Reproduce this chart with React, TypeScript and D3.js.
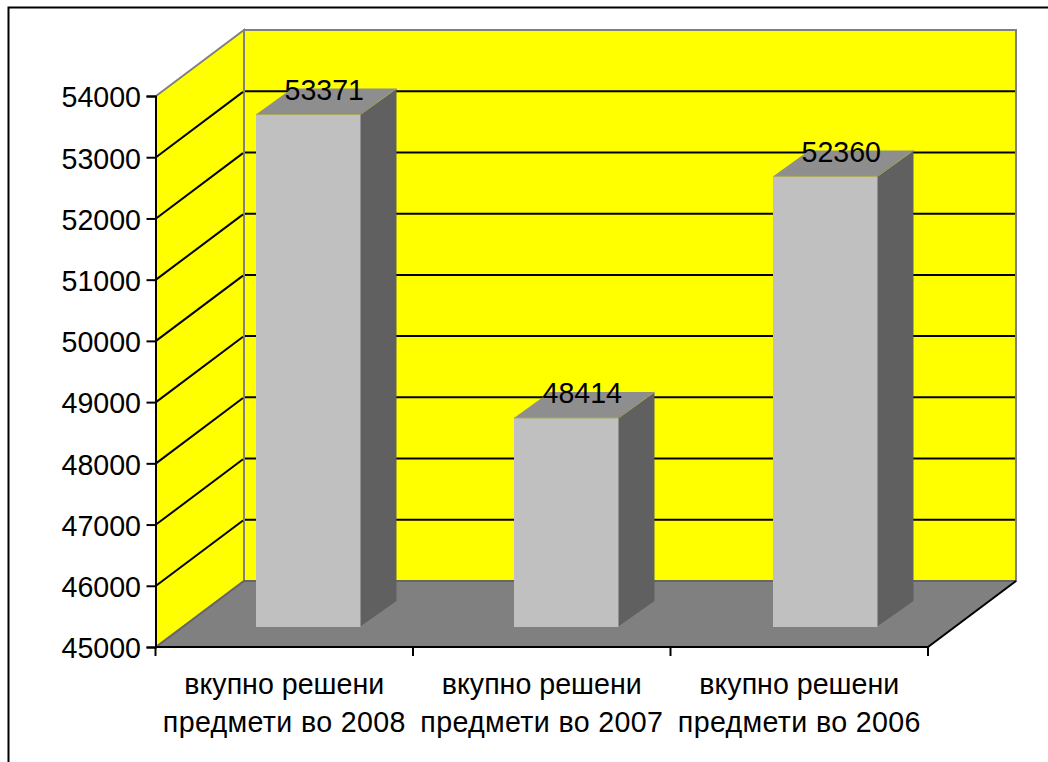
import React, { useRef, useEffect } from "react";
import * as d3 from "d3";

const categories = ["2008", "2007", "2006"];
const values = [53371, 48414, 52360];
const tickValues = [45000, 46000, 47000, 48000, 49000, 50000, 51000, 52000, 53000, 54000];
const labelFirstLine = "вкупно решени";
const labelSecondLine = "предмети во ";

const App = () => {
  const svgRef = useRef<SVGSVGElement>(null);

  useEffect(() => {
    const svg = d3.select(svgRef.current);
    svg.selectAll("*").remove();

    const font = "'Liberation Sans', Arial, sans-serif";
    const fontSize = 28.6;

    const x = d3.scaleBand().domain(categories).range([155.5, 928]);
    const xBar = d3.scalePoint().domain(categories).range([256, 773]);
    const y = d3.scaleLinear().domain([45000, 54000]).range([647, 96]);

    // 3d offsets
    const wallDx = 88;
    const wallDy = -66;
    const barDy = -20;
    const barWidth = 104.5;
    const depthDx = 36;
    const depthDy = -26;

    const pts = (p: number[][]) => p.map((d) => d.join(",")).join(" ");
    const x0 = 156;
    const x1 = x.range()[1];
    const y0 = y(45000);
    const yTop = y(54000);

    // frame
    svg
      .append("path")
      .attr("d", "M8.5,762V7.5H1048")
      .attr("fill", "none")
      .attr("stroke", "#000")
      .attr("stroke-width", 2);

    // walls
    svg
      .append("polygon")
      .attr("points", pts([[x0 + wallDx, yTop + wallDy], [x1 + wallDx, yTop + wallDy], [x1 + wallDx, y0 + wallDy], [x0 + wallDx, y0 + wallDy]]))
      .attr("fill", "#ffff00")
      .attr("stroke", "#808080")
      .attr("stroke-width", 2);
    svg
      .append("polygon")
      .attr("points", pts([[x0, yTop], [x0 + wallDx, yTop + wallDy], [x0 + wallDx, y0 + wallDy], [x0, y0]]))
      .attr("fill", "#ffff00")
      .attr("stroke", "#808080")
      .attr("stroke-width", 2);

    // grid on both walls
    const gridG = svg.append("g").attr("fill", "none").attr("stroke", "#000").attr("stroke-width", 2);
    tickValues.slice(1, -1).forEach((t) => {
      gridG
        .append("path")
        .attr("d", `M${x0},${y(t)}L${x0 + wallDx - 1},${y(t) + wallDy + 0.7}`);
      gridG
        .append("path")
        .attr("d", `M${x0 + wallDx + 1},${y(t) + wallDy}H${x1 + wallDx - 1}`);
    });

    // floor
    svg
      .append("polygon")
      .attr("points", pts([[x0, y0], [x1, y0], [x1 + wallDx, y0 + wallDy], [x0 + wallDx, y0 + wallDy]]))
      .attr("fill", "#808080");
    svg
      .append("path")
      .attr("d", `M${x0},${y0}L${x0 + wallDx},${y0 + wallDy}H${x1 + wallDx}`)
      .attr("fill", "none")
      .attr("stroke", "#666")
      .attr("stroke-width", 2);
    svg
      .append("path")
      .attr("d", `M${x1},${y0}L${x1 + wallDx},${y0 + wallDy}`)
      .attr("stroke", "#000")
      .attr("stroke-width", 2);

    // bars
    const bars = svg
      .append("g")
      .selectAll("g")
      .data(categories.map((c, i) => ({ c, v: values[i] })))
      .join("g");
    const left = (d: { c: string }) => Math.floor(xBar(d.c) as number);
    const base = y0 + barDy;
    const top = (d: { v: number }) => y(d.v) + barDy;

    bars
      .append("polygon")
      .attr("points", (d) =>
        pts([[left(d), top(d)], [left(d) + barWidth, top(d)], [left(d) + barWidth + depthDx, top(d) + depthDy], [left(d) + depthDx, top(d) + depthDy]])
      )
      .attr("fill", "#8e8e8e");
    // side starts a pixel under the front face so no wall shows through the seam
    bars
      .append("polygon")
      .attr("points", (d) =>
        pts([[left(d) + barWidth - 1, top(d)], [left(d) + barWidth + depthDx, top(d) + depthDy], [left(d) + barWidth + depthDx, base + depthDy], [left(d) + barWidth - 1, base]])
      )
      .attr("fill", "#606060");
    bars
      .append("rect")
      .attr("x", left)
      .attr("y", top)
      .attr("width", barWidth)
      .attr("height", (d) => base - top(d))
      .attr("fill", "#c0c0c0");
    bars
      .append("path")
      .attr("d", (d) => `M${left(d)},${top(d)}H${left(d) + barWidth}L${left(d) + barWidth + depthDx},${top(d) + depthDy}`)
      .attr("fill", "none")
      .attr("stroke", "#a8a860")
      .attr("stroke-width", 1);
    bars
      .append("text")
      .attr("x", (d) => left(d) + barWidth / 2 + 16)
      .attr("y", (d) => top(d) - 14.5)
      .attr("text-anchor", "middle")
      .attr("font-family", font)
      .attr("font-size", fontSize)
      .attr("fill", "#000")
      .text((d) => d.v);

    // axes
    const yAxis = svg
      .append("g")
      .attr("transform", `translate(${x0 - 0.5},0)`)
      .call(d3.axisLeft(y).tickValues(tickValues).tickSize(9).tickPadding(5.5).tickFormat(d3.format("d")));
    yAxis.selectAll("line").attr("stroke", "#000").attr("stroke-width", 2);
    yAxis.select(".domain").attr("stroke", "#000").attr("stroke-width", 2);
    yAxis
      .selectAll("text")
      .attr("font-family", font)
      .attr("font-size", fontSize)
      .attr("dy", "0.38em")
      .attr("fill", "#000");

    const xAxisG = svg.append("g").attr("stroke", "#000").attr("stroke-width", 2).attr("fill", "none");
    xAxisG.append("path").attr("d", `M${x0},${y0}H${x1}`);
    [...categories.map((c) => x(c) as number), x1].forEach((tx) => {
      xAxisG.append("path").attr("d", `M${tx},${y0}V${y0 + 9}`);
    });

    const labels = svg
      .append("g")
      .attr("font-family", font)
      .attr("font-size", fontSize)
      .attr("text-anchor", "middle")
      .attr("fill", "#000")
      .selectAll("g")
      .data(categories)
      .join("g");
    labels
      .append("text")
      .attr("x", (c) => (x(c) as number) + x.bandwidth() / 2)
      .attr("y", 693.5)
      .text(labelFirstLine);
    labels
      .append("text")
      .attr("x", (c) => (x(c) as number) + x.bandwidth() / 2)
      .attr("y", 731.5)
      .attr("letter-spacing", 0.35)
      .text((c) => labelSecondLine + c);
  }, []);

  return <svg ref={svgRef} width={1048} height={762} style={{ position: "absolute", left: 0, top: 0 }}></svg>;
};

export default App;
